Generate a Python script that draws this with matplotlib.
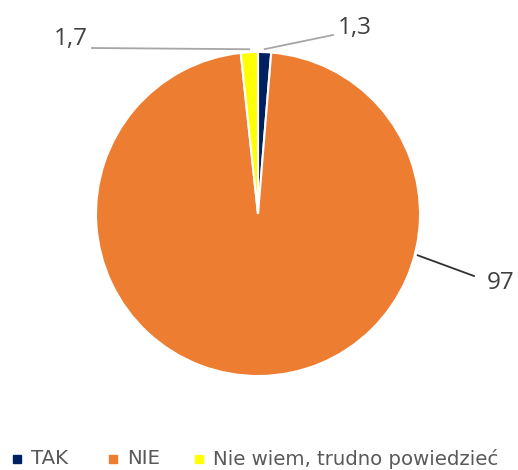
import numpy as np
import matplotlib.pyplot as plt

labels = ["TAK", "NIE", "Nie wiem, trudno powiedzieć"]
values = [1.3, 97, 1.7]
value_text = ["1,3", "97", "1,7"]
colors = ["#002060", "#ED7D31", "#FFFF00"]

plt.rcParams['font.family'] = ['Open Sans', 'DejaVu Sans']

W, H = 518, 470
fig = plt.figure(figsize=(W / 100, H / 100), dpi=100)
ax = fig.add_axes([0, 0, 1, 1])

cx, cy, r = 258, H - 214, 162
wedges, _ = ax.pie(values, colors=colors, startangle=90, counterclock=False,
                   center=(cx, cy), radius=r, frame=True,
                   wedgeprops=dict(edgecolor='white', linewidth=1.5))
ax.set_xlim(0, W)
ax.set_ylim(0, H)
ax.set_aspect('equal')
ax.axis('off')

# leader lines; the big slice's label hangs off its right-hand rim
anchor_angles = [None, -14.5, None]
ends = [(333, H - 35), (474, H - 276), (92, H - 48)]
text_pos = [(338, H - 28), (487, H - 283), (88, H - 39)]
aligns = ["left", "left", "right"]
line_cols = ["#A6A6A6", "#303030", "#A6A6A6"]
for w, a, e, tp, ha, lc, t in zip(wedges, anchor_angles, ends, text_pos,
                                  aligns, line_cols, value_text):
    deg = (w.theta1 + w.theta2) / 2 if a is None else a
    ang = np.deg2rad(deg)
    sx, sy = cx + (r + 3) * np.cos(ang), cy + (r + 3) * np.sin(ang)
    ax.plot([sx, e[0]], [sy, e[1]], color=lc, lw=1.3)
    ax.text(tp[0], tp[1], t, ha=ha, va='center', fontsize=17.5, color='#404040')

# legend row along the bottom
leg_x = [17, 113, 199]
leg_y = H - 459
for x, c, lab in zip(leg_x, colors, labels):
    ax.plot([x], [leg_y], marker='s', markersize=5.5, color=c, linestyle='none')
    ax.text(x + 14, leg_y, lab, ha='left', va='center', fontsize=14.2,
            color='#595959', family=['DejaVu Sans'])

plt.savefig("out.png", dpi=100)
